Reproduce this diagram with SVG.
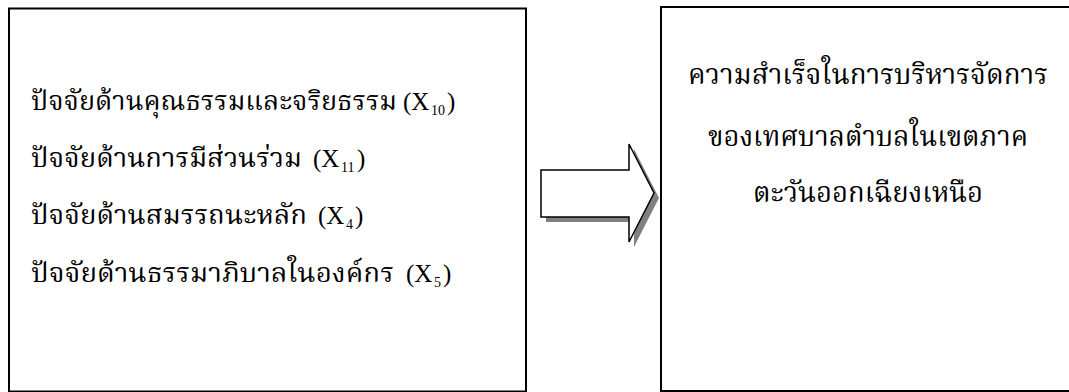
<svg xmlns="http://www.w3.org/2000/svg" width="1069" height="392" viewBox="0 0 1069 392">
<style>
.box{fill:#fff;stroke:#000;stroke-width:2}
.t{font-family:"Liberation Serif","Noto Serif Thai","Noto Sans Thai","Noto Sans",serif;font-size:27px;fill:#000}
.r{font-size:29px}
.x{font-family:"Liberation Serif","Times New Roman",serif;font-size:25px;fill:#000}
.sub{font-family:"Liberation Serif","Times New Roman",serif;font-size:14px;fill:#000}
</style>
<rect width="1069" height="392" fill="#fff"/>
<g id="left-box">
<rect class="box" x="9" y="8.5" width="517" height="383"/>
<text class="t" x="31" y="110" textLength="366" lengthAdjust="spacingAndGlyphs">ปัจจัยด้านคุณธรรมและจริยธรรม</text>
<text class="x" x="403" y="110">(X</text><text class="sub" x="431" y="115">10</text><text class="x" x="447" y="110">)</text>
<text class="t" x="31" y="167" textLength="271" lengthAdjust="spacingAndGlyphs">ปัจจัยด้านการมีส่วนร่วม</text>
<text class="x" x="313" y="167">(X</text><text class="sub" x="341" y="172">11</text><text class="x" x="357" y="167">)</text>
<text class="t" x="31" y="224" textLength="276" lengthAdjust="spacingAndGlyphs">ปัจจัยด้านสมรรถนะหลัก</text>
<text class="x" x="318" y="224">(X</text><text class="sub" x="346" y="229">4</text><text class="x" x="355" y="224">)</text>
<text class="t" x="31" y="282" textLength="363" lengthAdjust="spacingAndGlyphs">ปัจจัยด้านธรรมาภิบาลในองค์กร</text>
<text class="x" x="406" y="282">(X</text><text class="sub" x="434" y="287">5</text><text class="x" x="443" y="282">)</text>
</g>
<g id="connectors">
<polygon points="546,175 634,175 634,149 659,198 634,247 634,222 546,222" fill="#808080"/>
<polygon points="541,170 629,170 629,144 654,193 629,242 629,217 541,217" fill="#fff" stroke="#000" stroke-width="1.5"/>
</g>
<g id="right-box">
<rect class="box" x="661" y="7" width="414" height="384"/>
<text class="t r" x="868" y="84" text-anchor="middle" textLength="360" lengthAdjust="spacingAndGlyphs">ความสำเร็จในการบริหารจัดการ</text>
<text class="t r" x="868" y="146" text-anchor="middle" textLength="320" lengthAdjust="spacingAndGlyphs">ของเทศบาลตำบลในเขตภาค</text>
<text class="t r" x="868" y="202" text-anchor="middle" textLength="230" lengthAdjust="spacingAndGlyphs">ตะวันออกเฉียงเหนือ</text>
</g>
</svg>
